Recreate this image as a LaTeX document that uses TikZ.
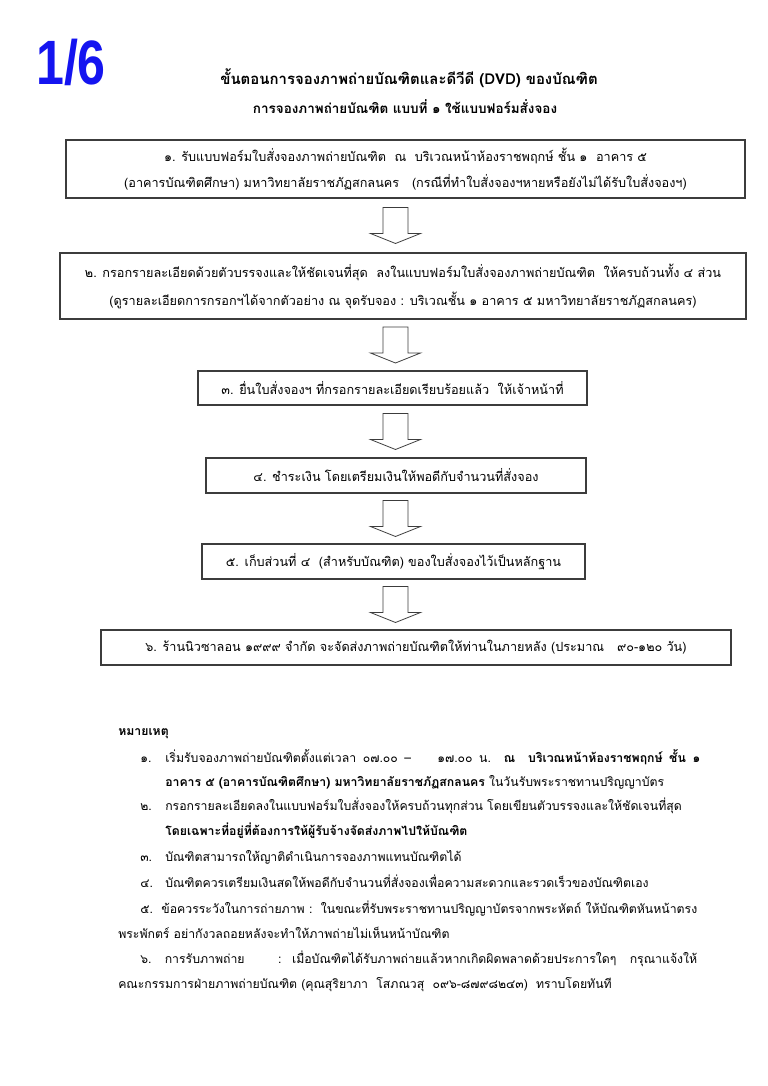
\documentclass[tikz,border=0pt]{standalone}
\usepackage{fontspec}
\setmainfont{Loma}[Script=Thai]
\newfontfamily\numfont{Liberation Sans}
\usetikzlibrary{calc}
\definecolor{pageblue}{RGB}{20,20,240}
\definecolor{boxline}{RGB}{60,60,60}
\tikzset{
  flowbox/.style={draw=boxline, line width=0.9pt, inner sep=0pt, align=center,
    font=\fontsize{9.5}{20}\selectfont},
  blockarrow/.style={draw=boxline, line width=0.6pt, fill=white, line join=miter},
  notetext/.style={anchor=base west, inner sep=0pt, font=\fontsize{9.2}{14}\selectfont},
  titletext/.style={inner sep=0pt, font=\bfseries}
}
\newcommand\flowarrow[2]{%
  \coordinate (am) at ($(#1.south)!0.5!(#2.north)$);
  \coordinate (amc) at (ax |- am);
  \draw[blockarrow] ([shift={(-12.5,-18)}]amc) -- ++(25,0) -- ++(0,26) -- ++(12.5,0)
     -- ++(-25,10) -- ++(-25,-10) -- ++(12.5,0) -- cycle;}
\begin{document}
\begin{tikzpicture}[x=0.75pt,y=-0.75pt]
\useasboundingbox (0,0) rectangle (768,1086);
\coordinate (ax) at (395.5,0);
% page number
\node[inner sep=0pt, text=pageblue, font=\numfont\bfseries\fontsize{47}{50}\selectfont] (pg) at (71,62) {\scalebox{0.8}[1]{1/6}};
% titles
\node[titletext, font=\fontsize{11.2}{14}\selectfont\bfseries] (t1) at (409,78) {ขั้นตอนการจองภาพถ่ายบัณฑิตและดีวีดี (DVD) ของบัณฑิต};
\node[titletext, font=\fontsize{10.1}{14}\selectfont\bfseries] (t2) at (405,107) {การจองภาพถ่ายบัณฑิต แบบที่ ๑ ใช้แบบฟอร์มสั่งจอง};
% boxes
\node[flowbox, minimum width={679*0.75pt}, minimum height={58*0.75pt}] (b1) at (405.5,169)
  {๑. รับแบบฟอร์มใบสั่งจองภาพถ่ายบัณฑิต\ \ ณ\ \ บริเวณหน้าห้องราชพฤกษ์ ชั้น ๑\ \ อาคาร ๕\\
   (อาคารบัณฑิตศึกษา) มหาวิทยาลัยราชภัฏสกลนคร\ \ \ (กรณีที่ทำใบสั่งจองฯหายหรือยังไม่ได้รับใบสั่งจองฯ)};
\node[flowbox, minimum width={686*0.75pt}, minimum height={66*0.75pt}, font=\fontsize{9.5}{21}\selectfont] (b2) at (403,286)
  {๒. กรอกรายละเอียดด้วยตัวบรรจงและให้ชัดเจนที่สุด\ \ ลงในแบบฟอร์มใบสั่งจองภาพถ่ายบัณฑิต\ \ ให้ครบถ้วนทั้ง ๔ ส่วน\\
   (ดูรายละเอียดการกรอกฯได้จากตัวอย่าง ณ จุดรับจอง : บริเวณชั้น ๑ อาคาร ๕ มหาวิทยาลัยราชภัฏสกลนคร)};
\node[flowbox, minimum width={389*0.75pt}, minimum height={34*0.75pt}] (b3) at (392.5,388)
  {๓. ยื่นใบสั่งจองฯ ที่กรอกรายละเอียดเรียบร้อยแล้ว\ \ ให้เจ้าหน้าที่};
\node[flowbox, minimum width={380*0.75pt}, minimum height={35*0.75pt}] (b4) at (396,475.5)
  {๔. ชำระเงิน โดยเตรียมเงินให้พอดีกับจำนวนที่สั่งจอง};
\node[flowbox, minimum width={383*0.75pt}, minimum height={35*0.75pt}] (b5) at (393.5,561.5)
  {๕. เก็บส่วนที่ ๔\ \ (สำหรับบัณฑิต) ของใบสั่งจองไว้เป็นหลักฐาน};
\node[flowbox, minimum width={630*0.75pt}, minimum height={35*0.75pt}] (b6) at (416,647.5)
  {๖. ร้านนิวซาลอน ๑๙๙๙ จำกัด จะจัดส่งภาพถ่ายบัณฑิตให้ท่านในภายหลัง (ประมาณ\ \ \ ๙๐-๑๒๐ วัน)};
% arrows
\flowarrow{b1}{b2}
\flowarrow{b2}{b3}
\flowarrow{b3}{b4}
\flowarrow{b4}{b5}
\flowarrow{b5}{b6}
% notes
\node[notetext, font=\fontsize{9.2}{14}\selectfont\bfseries] (nh) at (118,735) {หมายเหตุ};
\node[notetext] (n1a) at (140,762) {๑.};
\node[notetext] (n1b) at (165,762) {\makebox[535\dimexpr0.75pt][s]{เริ่มรับจองภาพถ่ายบัณฑิตตั้งแต่เวลา ๐๗.๐๐ –\ \ \ \ ๑๗.๐๐ น. \textbf{ณ\ \ บริเวณหน้าห้องราชพฤกษ์ ชั้น ๑}}};
\node[notetext] (n1c) at (165,786) {\textbf{อาคาร ๕ (อาคารบัณฑิตศึกษา) มหาวิทยาลัยราชภัฏสกลนคร} ในวันรับพระราชทานปริญญาบัตร};
\node[notetext] (n2a) at (140,810) {๒.};
\node[notetext] (n2b) at (165,810) {กรอกรายละเอียดลงในแบบฟอร์มใบสั่งจองให้ครบถ้วนทุกส่วน โดยเขียนตัวบรรจงและให้ชัดเจนที่สุด};
\node[notetext] (n2c) at (165,835) {\textbf{โดยเฉพาะที่อยู่ที่ต้องการให้ผู้รับจ้างจัดส่งภาพไปให้บัณฑิต}};
\node[notetext] (n3a) at (140,861) {๓.};
\node[notetext] (n3b) at (165,861) {บัณฑิตสามารถให้ญาติดำเนินการจองภาพแทนบัณฑิตได้};
\node[notetext] (n4a) at (140,887) {๔.};
\node[notetext] (n4b) at (165,887) {บัณฑิตควรเตรียมเงินสดให้พอดีกับจำนวนที่สั่งจองเพื่อความสะดวกและรวดเร็วของบัณฑิตเอง};
\node[notetext] (n5a) at (140,913) {\makebox[557\dimexpr0.75pt][s]{๕.\ \ ข้อควรระวังในการถ่ายภาพ :\ \ ในขณะที่รับพระราชทานปริญญาบัตรจากพระหัตถ์ ให้บัณฑิตหันหน้าตรง}};
\node[notetext] (n5b) at (118,938) {พระพักตร์ อย่ากังวลถอยหลังจะทำให้ภาพถ่ายไม่เห็นหน้าบัณฑิต};
\node[notetext] (n6a) at (140,963) {\makebox[557\dimexpr0.75pt][s]{๖.\ \ การรับภาพถ่าย\ \ \ \ \ : เมื่อบัณฑิตได้รับภาพถ่ายแล้วหากเกิดผิดพลาดด้วยประการใดๆ\ \ กรุณาแจ้งให้}};
\node[notetext] (n6b) at (118,988) {คณะกรรมการฝ่ายภาพถ่ายบัณฑิต (คุณสุริยาภา\ \ โสภณวสุ\ \ ๐๙๖-๘๗๙๘๒๔๓)\ \ ทราบโดยทันที};
\end{tikzpicture}
\end{document}
